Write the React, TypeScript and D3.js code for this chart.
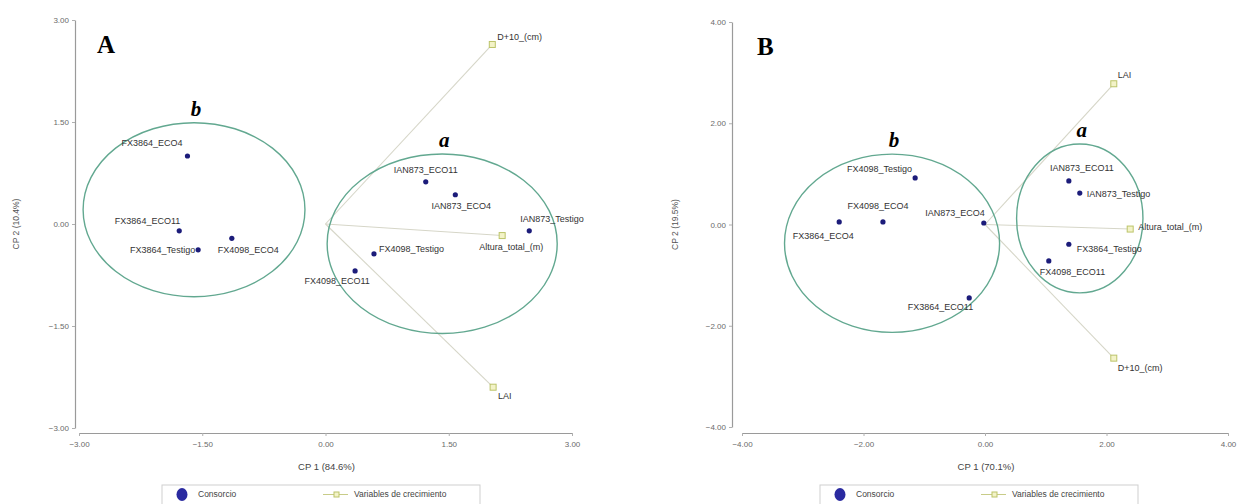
import React, { useEffect, useRef } from 'react';
import * as d3 from 'd3';

// Panel A — consorcios (CP1 / CP2 scores)
const namesA = ['FX3864_ECO4', 'FX3864_ECO11', 'FX3864_Testigo', 'FX4098_ECO4', 'IAN873_ECO11', 'IAN873_ECO4', 'IAN873_Testigo', 'FX4098_Testigo', 'FX4098_ECO11'];
const cp1A = [-1.68, -1.78, -1.55, -1.14, 1.22, 1.58, 2.48, 0.59, 0.36];
const cp2A = [1.0, -0.1, -0.38, -0.21, 0.62, 0.43, -0.1, -0.44, -0.69];
// Panel A — growth variables (loadings)
const varNamesA = ['D+10_(cm)', 'Altura_total_(m)', 'LAI'];
const varCp1A = [2.03, 2.15, 2.04];
const varCp2A = [2.64, -0.17, -2.4];
// Panel A — group ellipses
const groupLabelsA = ['b', 'a'];
const groupCxA = [-1.6, 1.42];
const groupCyA = [0.21, -0.29];
const groupRxA = [1.35, 1.4];
const groupRyA = [1.28, 1.32];
const ticksA = [-3, -1.5, 0, 1.5, 3];

// Panel B
const namesB = ['FX4098_Testigo', 'FX4098_ECO4', 'FX3864_ECO4', 'IAN873_ECO4', 'FX3864_ECO11', 'FX4098_ECO11', 'FX3864_Testigo', 'IAN873_ECO11', 'IAN873_Testigo'];
const cp1B = [-1.15, -1.68, -2.4, -0.02, -0.26, 1.05, 1.38, 1.38, 1.56];
const cp2B = [0.92, 0.05, 0.05, 0.03, -1.45, -0.72, -0.39, 0.86, 0.62];
const varNamesB = ['LAI', 'Altura_total_(m)', 'D+10_(cm)'];
const varCp1B = [2.12, 2.39, 2.12];
const varCp2B = [2.78, -0.09, -2.64];
const groupLabelsB = ['b', 'a'];
const groupCxB = [-1.53, 1.56];
const groupCyB = [-0.37, 0.12];
const groupRxB = [1.77, 1.04];
const groupRyB = [1.76, 1.47];
const ticksB = [-4, -2, 0, 2, 4];

// label placement relative to the marker: [dx, dy, anchor]
const labelPosA: Record<string, [number, number, string]> = {
  FX3864_ECO4: [-5, -13, 'end'],
  FX3864_ECO11: [1, -10, 'end'],
  FX3864_Testigo: [-3, 0, 'end'],
  FX4098_ECO4: [-14, 12, 'start'],
  IAN873_ECO11: [0, -12, 'middle'],
  IAN873_ECO4: [6, 11, 'middle'],
  IAN873_Testigo: [-9, -12, 'start'],
  FX4098_Testigo: [5, -5, 'start'],
  FX4098_ECO11: [-18, 10, 'middle'],
  'D+10_(cm)': [5, -8, 'start'],
  'Altura_total_(m)': [9, 11, 'middle'],
  LAI: [5, 9, 'start'],
};
const labelPosB: Record<string, [number, number, string]> = {
  FX4098_Testigo: [-3, -9, 'end'],
  FX4098_ECO4: [-5, -16, 'middle'],
  FX3864_ECO4: [-16, 14, 'middle'],
  IAN873_ECO4: [1, -10, 'end'],
  FX3864_ECO11: [4, 9, 'end'],
  FX4098_ECO11: [-9, 11, 'start'],
  FX3864_Testigo: [8, 5, 'start'],
  IAN873_ECO11: [13, -13, 'middle'],
  IAN873_Testigo: [7, 1, 'start'],
  LAI: [4, -9, 'start'],
  'Altura_total_(m)': [8, -2, 'start'],
  'D+10_(cm)': [4, 10, 'start'],
};

const SANS = '"Liberation Sans", Arial, sans-serif';
const SERIF = '"Liberation Serif", "Times New Roman", serif';
const NAVY = '#1c1c7a';
const ELLIPSE = '#62a890';
const VAR_STROKE = '#bcc46a';
const VAR_FILL = '#f3f3c8';

type PanelDef = {
  letter: string;
  letterX: number;
  letterY: number;
  names: string[];
  cp1: number[];
  cp2: number[];
  varNames: string[];
  varCp1: number[];
  varCp2: number[];
  groupLabels: string[];
  groupCx: number[];
  groupCy: number[];
  groupRx: number[];
  groupRy: number[];
  ticks: number[];
  xRange: [number, number];
  yRange: [number, number];
  yAxisX: number;
  xAxisY: number;
  xTitle: string;
  yTitle: string;
  yTitleX: number;
  legendX: number;
  labels: Record<string, [number, number, string]>;
};

const panels: PanelDef[] = [
  {
    letter: 'A', letterX: 97, letterY: 53,
    names: namesA, cp1: cp1A, cp2: cp2A,
    varNames: varNamesA, varCp1: varCp1A, varCp2: varCp2A,
    groupLabels: groupLabelsA, groupCx: groupCxA, groupCy: groupCyA, groupRx: groupRxA, groupRy: groupRyA,
    ticks: ticksA, xRange: [79, 572], yRange: [428, 20], yAxisX: 75, xAxisY: 433,
    xTitle: 'CP 1 (84.6%)', yTitle: 'CP 2 (10.4%)', yTitleX: 19, legendX: 162, labels: labelPosA,
  },
  {
    letter: 'B', letterX: 757, letterY: 55,
    names: namesB, cp1: cp1B, cp2: cp2B,
    varNames: varNamesB, varCp1: varCp1B, varCp2: varCp2B,
    groupLabels: groupLabelsB, groupCx: groupCxB, groupCy: groupCyB, groupRx: groupRxB, groupRy: groupRyB,
    ticks: ticksB, xRange: [742, 1228], yRange: [427, 22], yAxisX: 732, xAxisY: 433,
    xTitle: 'CP 1 (70.1%)', yTitle: 'CP 2 (19.5%)', yTitleX: 678, legendX: 820, labels: labelPosB,
  },
];

const App: React.FC = () => {
  const svgRef = useRef<SVGSVGElement>(null);

  useEffect(() => {
    if (!svgRef.current) return;
    const svg = d3.select(svgRef.current);
    svg.selectAll('*').remove();
    const fmt = d3.format('.2f');

    panels.forEach((p) => {
      const ext = d3.max(p.ticks) as number;
      const x = d3.scaleLinear().domain([-ext, ext]).range(p.xRange);
      const y = d3.scaleLinear().domain([-ext, ext]).range(p.yRange);
      const g = svg.append('g');

      // axes
      const xAxis = g.append('g')
        .attr('transform', `translate(0,${p.xAxisY})`)
        .call(d3.axisBottom(x).tickValues(p.ticks).tickFormat((d) => fmt(d as number)).tickSize(3).tickSizeOuter(0).tickPadding(5));
      const yAxis = g.append('g')
        .attr('transform', `translate(${p.yAxisX},0)`)
        .call(d3.axisLeft(y).tickValues(p.ticks).tickFormat((d) => fmt(d as number)).tickSize(3).tickSizeOuter(0).tickPadding(3));
      [xAxis, yAxis].forEach((a) => {
        a.select('.domain').attr('stroke', '#9a9a9a').attr('stroke-width', 1.2);
        a.selectAll('.tick line').attr('stroke', '#b0b0b0');
        a.selectAll('.tick text').attr('fill', '#6a6a6a').attr('font-size', 8).attr('font-family', SANS);
      });

      g.append('text')
        .attr('x', (p.xRange[0] + p.xRange[1]) / 2 + 1)
        .attr('y', 470)
        .attr('text-anchor', 'middle')
        .attr('font-family', SANS).attr('font-size', 9.5).attr('fill', '#444')
        .text(p.xTitle);
      g.append('text')
        .attr('transform', `translate(${p.yTitleX},${y(0)}) rotate(-90)`)
        .attr('text-anchor', 'middle')
        .attr('font-family', SANS).attr('font-size', 8.5).attr('fill', '#555')
        .text(p.yTitle);

      g.append('text')
        .attr('x', p.letterX).attr('y', p.letterY)
        .attr('font-family', SERIF).attr('font-weight', 'bold').attr('font-size', 25)
        .text(p.letter);

      // biplot vectors
      p.varNames.forEach((_, i) => {
        g.append('line')
          .attr('x1', x(0)).attr('y1', y(0))
          .attr('x2', x(p.varCp1[i])).attr('y2', y(p.varCp2[i]))
          .attr('stroke', '#d6d6c8').attr('stroke-width', 1.1);
      });

      // group ellipses
      p.groupLabels.forEach((lab, i) => {
        const cx = x(p.groupCx[i]);
        const cy = y(p.groupCy[i]);
        const rx = x(p.groupRx[i]) - x(0);
        const ry = y(0) - y(p.groupRy[i]);
        g.append('ellipse')
          .attr('cx', cx).attr('cy', cy).attr('rx', rx).attr('ry', ry)
          .attr('fill', 'none').attr('stroke', ELLIPSE).attr('stroke-width', 1.4);
        g.append('text')
          .attr('x', cx + 2).attr('y', cy - ry - 7)
          .attr('text-anchor', 'middle')
          .attr('font-family', SERIF).attr('font-weight', 'bold').attr('font-style', 'italic').attr('font-size', 21)
          .text(lab);
      });

      // variable markers
      p.varNames.forEach((name, i) => {
        const px = x(p.varCp1[i]);
        const py = y(p.varCp2[i]);
        g.append('rect')
          .attr('x', px - 3).attr('y', py - 3).attr('width', 6).attr('height', 6)
          .attr('fill', VAR_FILL).attr('stroke', VAR_STROKE).attr('stroke-width', 1);
        const [dx, dy, anchor] = p.labels[name];
        g.append('text')
          .attr('x', px + dx).attr('y', py + dy).attr('dy', '0.35em')
          .attr('text-anchor', anchor)
          .attr('font-family', SANS).attr('font-size', 9).attr('fill', '#333')
          .text(name);
      });

      // consorcio points
      p.names.forEach((name, i) => {
        const px = x(p.cp1[i]);
        const py = y(p.cp2[i]);
        g.append('circle').attr('cx', px).attr('cy', py).attr('r', 2.6).attr('fill', NAVY);
        const [dx, dy, anchor] = p.labels[name];
        g.append('text')
          .attr('x', px + dx).attr('y', py + dy).attr('dy', '0.35em')
          .attr('text-anchor', anchor)
          .attr('font-family', SANS).attr('font-size', 9).attr('fill', '#333')
          .text(name);
      });

      // legend
      const lg = g.append('g').attr('transform', `translate(${p.legendX},485)`);
      lg.append('rect').attr('x', 0).attr('y', 0).attr('width', 318).attr('height', 24)
        .attr('fill', 'white').attr('stroke', '#cfcfcf');
      lg.append('ellipse').attr('cx', 20).attr('cy', 9.5).attr('rx', 5.5).attr('ry', 6.5).attr('fill', '#2a2aa0');
      lg.append('text').attr('x', 36).attr('y', 9.5).attr('dy', '0.35em')
        .attr('font-family', SANS).attr('font-size', 8.5).attr('fill', '#444').text('Consorcio');
      lg.append('line').attr('x1', 161).attr('x2', 186).attr('y1', 9.5).attr('y2', 9.5)
        .attr('stroke', '#c8cc88').attr('stroke-width', 1);
      lg.append('rect').attr('x', 172).attr('y', 7).attr('width', 5).attr('height', 5)
        .attr('fill', VAR_FILL).attr('stroke', VAR_STROKE);
      lg.append('text').attr('x', 192).attr('y', 9.5).attr('dy', '0.35em')
        .attr('font-family', SANS).attr('font-size', 8.5).attr('fill', '#444').text('Variables de crecimiento');
    });
  }, []);

  return (
    <div style={{ position: 'absolute', left: 0, top: 0, width: 1249, height: 504, background: 'white' }}>
      <svg ref={svgRef} width={1249} height={504} viewBox="0 0 1249 504"></svg>
    </div>
  );
};

export default App;
